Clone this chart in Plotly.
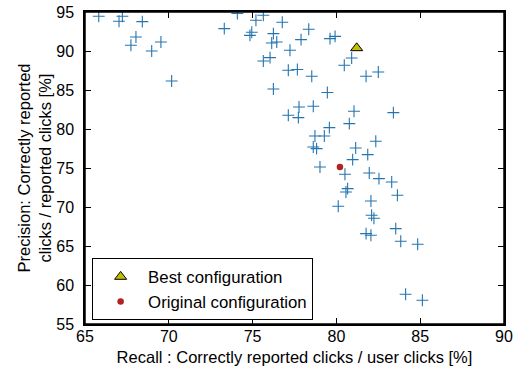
import plotly.graph_objects as go

recall = [65.82, 67.03, 67.23, 68.42, 68.04, 67.74, 69.53, 68.98, 70.17, 73.31,
          74.09, 75.20, 75.64, 76.77, 74.84, 74.95, 76.24, 76.14, 76.44, 78.35,
          77.89, 79.62, 79.92, 77.23, 75.64, 76.04, 77.13, 77.67, 78.53, 76.24,
          79.46, 80.91, 80.47, 81.77, 82.50,
          77.13, 77.77, 77.73, 78.62, 81.05, 83.40, 79.58, 80.77, 78.72, 79.28,
          78.62, 78.82, 82.35, 81.15, 81.87, 80.97, 79.02, 80.51, 81.96, 82.54,
          83.30, 83.64, 80.67, 80.57, 80.11, 82.06, 82.10, 82.24, 83.54, 81.77,
          82.06, 83.84, 84.85, 84.13, 85.13]
precision = [94.45, 93.81, 94.45, 93.77, 91.79, 90.73, 91.15, 90.00, 86.15, 92.87,
             94.80, 93.94, 94.58, 93.68, 92.00, 92.40, 92.23, 91.03, 91.15, 92.78,
             91.46, 91.59, 91.88, 90.09, 88.72, 89.15, 87.53, 87.62, 86.76, 85.13,
             84.67, 89.10, 88.17, 86.76, 87.30,
             81.76, 82.82, 81.46, 82.91, 82.27, 82.10, 80.18, 80.69, 79.10, 79.10,
             77.69, 77.49, 78.42, 77.56, 76.72, 76.08, 75.13, 74.19, 74.36, 73.64,
             73.21, 71.50, 72.36, 71.92, 70.09, 70.77, 68.94, 68.55, 67.23, 66.59,
             66.37, 65.60, 65.22, 58.81, 58.04]

best_recall = [81.21]
best_precision = [90.38]
orig_recall = [80.21]
orig_precision = [75.13]

x_ticks = [65, 70, 75, 80, 85, 90]
y_ticks = [55, 60, 65, 70, 75, 80, 85, 90, 95]

fig = go.Figure()
fig.add_trace(go.Scatter(
    x=recall, y=precision, mode="markers", showlegend=False,
    marker=dict(symbol="cross-thin", size=8.5,
                line=dict(color="#2474b0", width=1.1)),
))
fig.add_trace(go.Scatter(
    x=best_recall, y=best_precision, mode="markers", name="Best configuration",
    marker=dict(symbol="triangle-up", size=10.5, color="#bfbf00",
                line=dict(color="black", width=1)),
))
fig.add_trace(go.Scatter(
    x=orig_recall, y=orig_precision, mode="markers", name="Original configuration",
    marker=dict(symbol="circle", size=6.5, color="#b22222",
                line=dict(color="#b22222", width=0)),
))

axis_common = dict(
    showline=True, linecolor="black", linewidth=1.5, mirror="allticks",
    ticks="inside", ticklen=6, tickwidth=1, tickcolor="black",
    showgrid=False, zeroline=False, automargin=False,
    ticklabeloverflow="allow",
    tickfont=dict(family="Liberation Sans, Arial", size=16, color="black"),
)

fig.update_layout(
    width=521, height=374,
    margin=dict(l=85, r=17, t=12, b=50),
    plot_bgcolor="white", paper_bgcolor="white",
    font=dict(family="Liberation Sans, Arial", size=16.5, color="black"),
    xaxis=dict(range=[65, 90], tickvals=x_ticks, ticklabelstandoff=-3,
               title=dict(text="Recall : Correctly reported clicks / user clicks [%]",
                          font=dict(size=16.5), standoff=7),
               **axis_common),
    yaxis=dict(range=[55, 95], tickvals=y_ticks, ticklabelstandoff=6,
               title=dict(text="Precision: Correctly reported<br>clicks / reported clicks [%]",
                          font=dict(size=16.5), standoff=0),
               **axis_common),
    legend=dict(x=0.017, y=0.012, xanchor="left", yanchor="bottom",
                bordercolor="black", borderwidth=1, bgcolor="white",
                font=dict(size=16.8), itemsizing="trace", itemwidth=45,
                tracegroupgap=0),
    shapes=[dict(type="rect", xref="paper", yref="paper", x0=0, y0=0, x1=1, y1=1,
                 line=dict(color="black", width=1.5), layer="above")],
)

fig.write_html(
    "out.html",
    config={"displayModeBar": False},
    post_script="document.body.style.margin='0';document.body.style.overflow='hidden';",
)
